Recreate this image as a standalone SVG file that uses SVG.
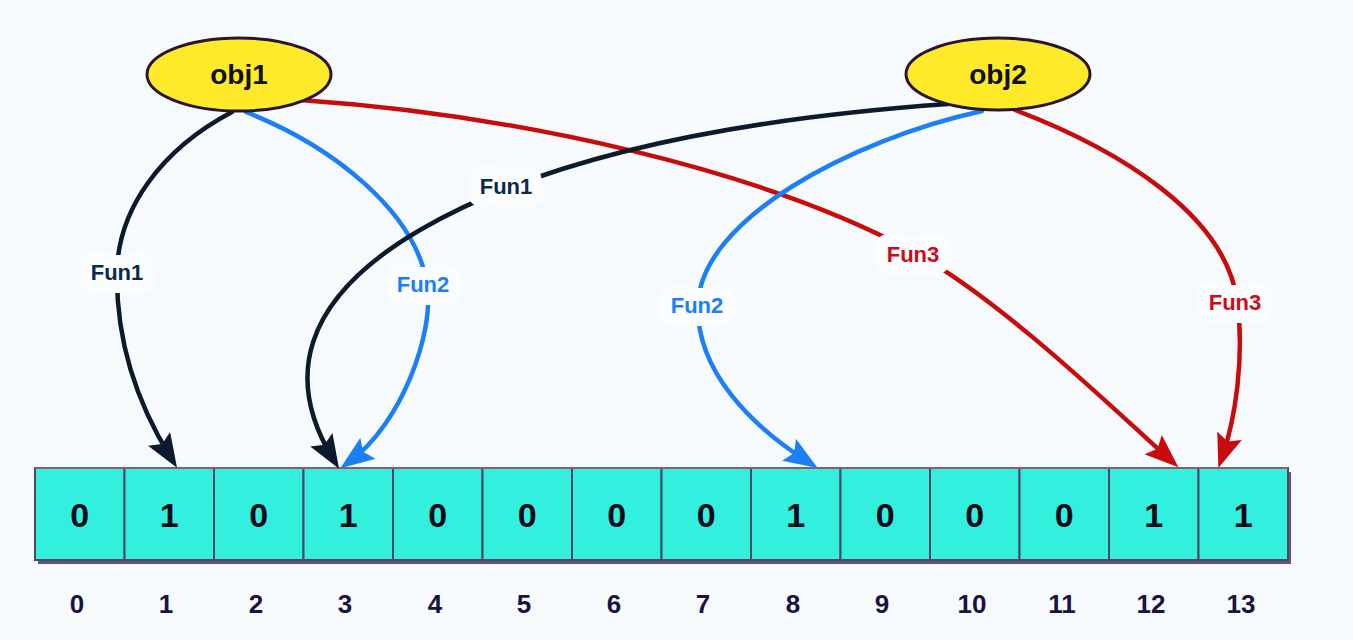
<svg xmlns="http://www.w3.org/2000/svg" width="1353" height="640" viewBox="0 0 1353 640">
<style>
.cell{fill:#33efdd;stroke:#4b4868;stroke-width:2}
.val{font-family:"Liberation Sans",Arial,sans-serif;font-size:34px;font-weight:bold;fill:#0a0a1a;text-anchor:middle}
.idx{font-family:"Liberation Sans",Arial,sans-serif;font-size:26px;font-weight:bold;fill:#1b1240;text-anchor:middle}
.obj{fill:#ffea2a;stroke:#2a1530;stroke-width:3}
.objt{font-family:"Liberation Sans",Arial,sans-serif;font-size:28px;font-weight:bold;fill:#111;text-anchor:middle}
.edge{fill:none;stroke-width:4.5;stroke-linecap:round}
.k{stroke:#0c1a2c}
.b{stroke:#1d7ff5}
.r{stroke:#c80c0c}
.lbl{font-family:"Liberation Sans",Arial,sans-serif;font-size:22px;font-weight:bold;text-anchor:middle;stroke:#fafcfe;stroke-width:26;stroke-linejoin:round;paint-order:stroke}
</style>
<defs>
<marker id="ak" markerUnits="userSpaceOnUse" markerWidth="36" markerHeight="28" viewBox="0 0 36 28" refX="22" refY="13" orient="auto"><path d="M0,0 L34,13 L0,26 L6,13 Z" fill="#0c1a2c"/></marker>
<marker id="ab" markerUnits="userSpaceOnUse" markerWidth="36" markerHeight="28" viewBox="0 0 36 28" refX="22" refY="13" orient="auto"><path d="M0,0 L34,13 L0,26 L6,13 Z" fill="#1d7ff5"/></marker>
<marker id="ar" markerUnits="userSpaceOnUse" markerWidth="36" markerHeight="28" viewBox="0 0 36 28" refX="22" refY="13" orient="auto"><path d="M0,0 L34,13 L0,26 L6,13 Z" fill="#c80c0c"/></marker>
</defs>
<rect width="1353" height="640" fill="#f7fafd"/>

<g id="array">
<rect x="38" y="472" width="1253" height="92" fill="#4a3858" opacity="0.85"/>
<rect class="cell" x="35" y="468" width="89.5" height="92"/>
<rect class="cell" x="124.5" y="468" width="89.5" height="92"/>
<rect class="cell" x="214" y="468" width="89.5" height="92"/>
<rect class="cell" x="303.5" y="468" width="89.5" height="92"/>
<rect class="cell" x="393" y="468" width="89.5" height="92"/>
<rect class="cell" x="482.5" y="468" width="89.5" height="92"/>
<rect class="cell" x="572" y="468" width="89.5" height="92"/>
<rect class="cell" x="661.5" y="468" width="89.5" height="92"/>
<rect class="cell" x="751" y="468" width="89.5" height="92"/>
<rect class="cell" x="840.5" y="468" width="89.5" height="92"/>
<rect class="cell" x="930" y="468" width="89.5" height="92"/>
<rect class="cell" x="1019.5" y="468" width="89.5" height="92"/>
<rect class="cell" x="1109" y="468" width="89.5" height="92"/>
<rect class="cell" x="1198.5" y="468" width="89.5" height="92"/>
<line x1="35" y1="468" x2="1288" y2="468" stroke="#d86a7a" stroke-width="1.2"/>
<text class="val" x="79.75" y="527">0</text>
<text class="val" x="169.25" y="527">1</text>
<text class="val" x="258.75" y="527">0</text>
<text class="val" x="348.25" y="527">1</text>
<text class="val" x="437.75" y="527">0</text>
<text class="val" x="527.25" y="527">0</text>
<text class="val" x="616.75" y="527">0</text>
<text class="val" x="706.25" y="527">0</text>
<text class="val" x="795.75" y="527">1</text>
<text class="val" x="885.25" y="527">0</text>
<text class="val" x="974.75" y="527">0</text>
<text class="val" x="1064.25" y="527">0</text>
<text class="val" x="1153.75" y="527">1</text>
<text class="val" x="1243.25" y="527">1</text>
</g>

<g id="indices">
<text class="idx" x="77" y="613">0</text>
<text class="idx" x="166" y="613">1</text>
<text class="idx" x="256" y="613">2</text>
<text class="idx" x="345" y="613">3</text>
<text class="idx" x="435" y="613">4</text>
<text class="idx" x="524" y="613">5</text>
<text class="idx" x="614" y="613">6</text>
<text class="idx" x="703" y="613">7</text>
<text class="idx" x="793" y="613">8</text>
<text class="idx" x="882" y="613">9</text>
<text class="idx" x="972" y="613">10</text>
<text class="idx" x="1062" y="613">11</text>
<text class="idx" x="1151" y="613">12</text>
<text class="idx" x="1241" y="613">13</text>
</g>

<g id="connectors">
<path class="edge k" d="M232,112 C160,150 118,210 117,272 C116,340 135,400 170.7,457.5" marker-end="url(#ak)"/>
<path class="edge b" d="M246,112 C330,145 415,210 427,284 C435,334 400,425 350.1,461.1" marker-end="url(#ab)"/>
<path class="edge r" d="M300,100 C520,115 760,170 910,250 C1000,298 1120,415 1169.5,459.3" marker-end="url(#ar)"/>
<path class="edge k" d="M948,104 C720,120 540,160 420,230 C300,300 285,380 332.8,458.5" marker-end="url(#ak)"/>
<path class="edge b" d="M982,111 C850,140 700,220 698,305 C696,370 750,425 807.6,461.6" marker-end="url(#ab)"/>
<path class="edge r" d="M1015,110 C1120,150 1225,215 1237,300 C1245,357 1235,420 1222.3,456.6" marker-end="url(#ar)"/>
<text class="lbl" x="117" y="280" fill="#0b2a4a">Fun1</text>
<text class="lbl" x="423" y="292" fill="#1d7ff5">Fun2</text>
<text class="lbl" x="506" y="194" fill="#0b2a4a">Fun1</text>
<text class="lbl" x="697" y="313" fill="#1d7ff5">Fun2</text>
<text class="lbl" x="913" y="262" fill="#cc0a1a">Fun3</text>
<text class="lbl" x="1235" y="310" fill="#cc0a1a">Fun3</text>
</g>

<g id="obj1">
<ellipse class="obj" cx="239" cy="74.5" rx="92" ry="36.5"/>
<text class="objt" x="239" y="84">obj1</text>
</g>
<g id="obj2">
<ellipse class="obj" cx="998" cy="74" rx="92" ry="36"/>
<text class="objt" x="998" y="84">obj2</text>
</g>
</svg>
